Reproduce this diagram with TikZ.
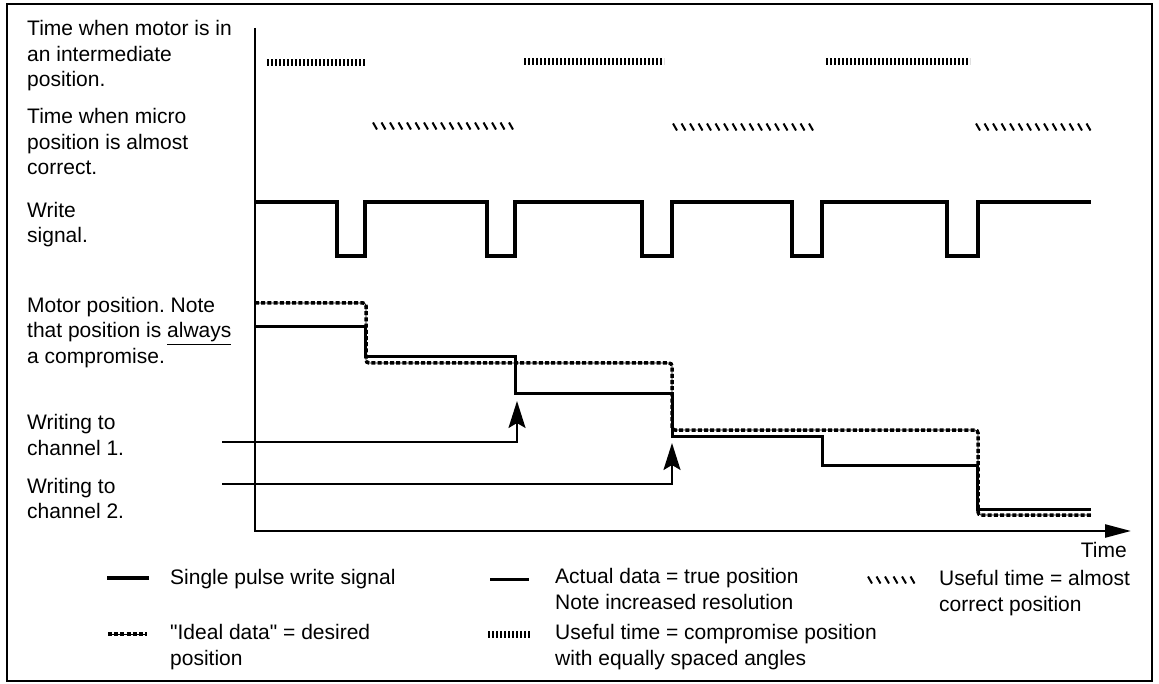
\documentclass[tikz,border=0pt]{standalone}
\usepackage{fontspec}
\newfontfamily\labelfont{Liberation Sans}
\usetikzlibrary{arrows.meta,decorations.markings}
\tikzset{
	label text/.style={font=\labelfont\fontsize{21}{25.5}\selectfont\frenchspacing, inner sep=0pt, anchor=base west, align=left},
	axis/.style={line width=2.5pt, -{Triangle[length=26pt, width=13pt]}},
	write signal/.style={line width=4pt, line join=miter},
	actual/.style={line width=3pt},
	ideal/.style={line width=3.5pt, dash pattern=on 4pt off 2.2pt, rounded corners=3pt,
			preaction={draw, solid, line width=0.8pt}},
	compromise/.style={line width=7pt, dash pattern=on 2.2pt off 1.8pt},
	micro/.style={decorate, decoration={markings,
					mark=between positions 0 and 1 step 8.5pt with {\draw[line width=2pt] (-2pt,3.5pt) -- (2pt,-3.5pt);}}},
	channel/.style={line width=2pt, -{Stealth[length=27pt, width=17pt, inset=5pt]}}
}

\begin{document}
\begin{tikzpicture}[x=1pt, y=-1pt]
			\useasboundingbox (0,0) rectangle (1159,684);
			\draw[line width=1.5pt] (7,4) rectangle (1152,681);

			\node[label text] (motor lbl) at (27,87) {Time when motor is in\\an intermediate\\position.};
			\node[label text] (micro lbl) at (27,175) {Time when micro\\position is almost\\correct.};
			\node[label text] (write lbl) at (27,243) {Write\\signal.};
			\node[label text] (pos lbl) at (27,363.5) {Motor position. Note\\that position is \underline{always}\\a compromise.};
			\node[label text] (ch1 lbl) at (27,455) {Writing to\\channel 1.};
			\node[label text] (ch2 lbl) at (27,518.5) {Writing to\\channel 2.};

			\coordinate (y top) at (255,28);
			\coordinate (origin) at (255,531);
			\coordinate (x end) at (1131,531);
			\draw[axis] (y top) -- (origin) -- (x end);
			\node[label text, anchor=base east] (time lbl) at (1127,557) {Time};

			\draw[compromise] (267,63) to (365,63);
			\draw[compromise] (524,62) to (664,62);
			\draw[compromise] (826,62) to (970,62);

			\path[micro] (375,126) to (513,126);
			\path[micro] (675,127) to (813,127);
			\path[micro] (978,127) to (1090,127);

			\draw[write signal] (255,202) \foreach \f/\r in {337/365, 487/515, 642/672, 792/822, 947/978}{
					-- (\f,202) -- (\f,256) -- (\r,256) -- (\r,202)} -- (1091,202);

			\draw[ideal] (255,303) -| (366,363) -| (672,430) -| (978,515) -- (1091,515);
			\draw[actual] (255,327) -| (365,357) -| (515,393) -| (672,436) -| (822,465) -| (977,509) -- (1091,509);

			\coordinate (ch1 start) at (222,442);
			\coordinate (ch1 tip) at (517,401);
			\coordinate (ch2 start) at (222,484);
			\coordinate (ch2 tip) at (672,443);
			\draw[channel] (ch1 start) -| (ch1 tip);
			\draw[channel] (ch2 start) -| (ch2 tip);

			\draw[write signal] (107,578) to (149,578);
			\node[label text] (leg write) at (170,584) {Single pulse write signal};
			\draw[actual] (490,579) to (529,579);
			\node[label text] (leg actual) at (555,609) {Actual data = true position\\Note increased resolution};
			\path[micro] (870,580) to (913,580);
			\node[label text] (leg micro) at (939,611) {Useful time = almost\\correct position};
			\draw[ideal] (108,634) to (147,634);
			\node[label text] (leg ideal) at (170,665) {"Ideal data" = desired\\position};
			\draw[compromise] (488,634) to (530,634);
			\node[label text] (leg comp) at (555,665) {Useful time = compromise position\\with equally spaced angles};
		\end{tikzpicture}
\end{document}
